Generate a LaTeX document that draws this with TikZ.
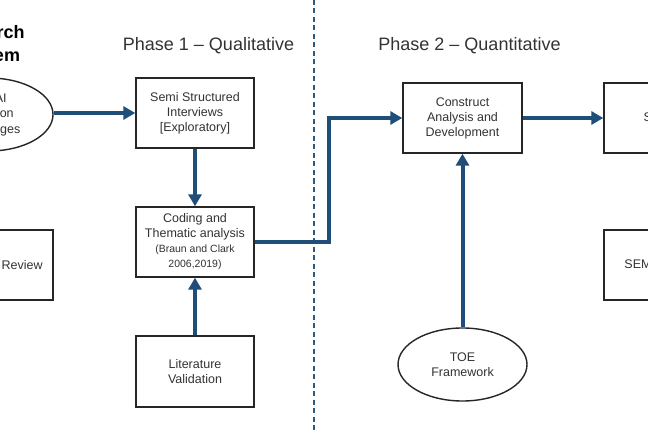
\documentclass[tikz,border=0pt]{standalone}
\usepackage{fontspec}
\setmainfont{Liberation Sans}
\usetikzlibrary{arrows.meta,shapes.geometric}
\definecolor{arrowblue}{HTML}{1F4E79}
\definecolor{boxline}{HTML}{262626}
\definecolor{dashblue}{HTML}{2E5A80}
\definecolor{txt}{HTML}{333333}
\begin{document}
\begin{tikzpicture}[x=1pt,y=-1pt,
  box/.style={draw=boxline,line width=1.4pt,minimum width=118pt,minimum height=70pt,
    inner sep=0pt,align=center,text=txt,font=\fontsize{12.5}{15}\selectfont},
  oval/.style={ellipse,draw=boxline,line width=1.4pt,minimum width=128pt,minimum height=73pt,
    inner sep=0pt,align=center,text=txt,font=\fontsize{12.5}{15.5}\selectfont},
  flow/.style={draw=arrowblue,line width=4pt,line join=miter,-{Triangle[length=12pt,width=13pt]}},
  phasetitle/.style={font=\fontsize{18}{22}\selectfont,anchor=base,inner sep=0pt,text=txt},
  divider/.style={draw=dashblue,line width=1.1pt,dash pattern=on 5pt off 3.5pt}
]
\useasboundingbox (0,0) rectangle (648,433);
\clip (0,0) rectangle (648,433);
\fill[white] (0,0) rectangle (648,433);

% divider
\coordinate (dtop) at (314,0);
\coordinate (dbot) at (314,433);
\draw[divider] (dtop) -- (dbot);

% titles
\node[font=\bfseries\fontsize{18}{23}\selectfont,anchor=base,align=center,inner sep=0pt] (rp) at (-16,62) {Research\\Problem};
\node[phasetitle] (ph1) at (208.5,51) {Phase 1 -- Qualitative};
\node[phasetitle] (ph2) at (469.5,51) {Phase 2 -- Quantitative};

% left column
\node[oval] (prob) at (-11,114.5) {GenAI\\Adoption\\Challenges};
\node[box] (litrev) at (-6,265) {Literature Review};

% phase 1
\node[box] (semi) at (195,113) {Semi Structured\\Interviews\\{[}Exploratory{]}};
\node[box] (coding) at (195,242) {Coding and\\Thematic analysis\\{\fontsize{10.5}{12}\selectfont(Braun and Clark}\\{\fontsize{10.5}{12}\selectfont 2006,2019)}};
\node[box,minimum height=71pt] (litval) at (195,371.5) {Literature\\Validation};

% phase 2
\node[box,minimum width=119pt] (construct) at (462.5,118) {Construct\\Analysis and\\Development};
\node[oval,minimum width=129pt] (toe) at (462.5,364.5) {TOE\\Framework};
\node[box] (survey) at (663,118) {Survey};
\node[box] (sem) at (663,265) {SEM Analysis};

% connectors
\draw[flow] (prob.east |- semi.west) -- (semi.west);
\draw[flow] (semi.south) -- (coding.north);
\draw[flow] (litval.north) -- (coding.south);
\draw[flow] (coding.east) -- ++(74,0) |- (construct.west);
\draw[flow] (toe.north) -- (construct.south);
\draw[flow] (construct.east) -- (survey.west);
\end{tikzpicture}
\end{document}
